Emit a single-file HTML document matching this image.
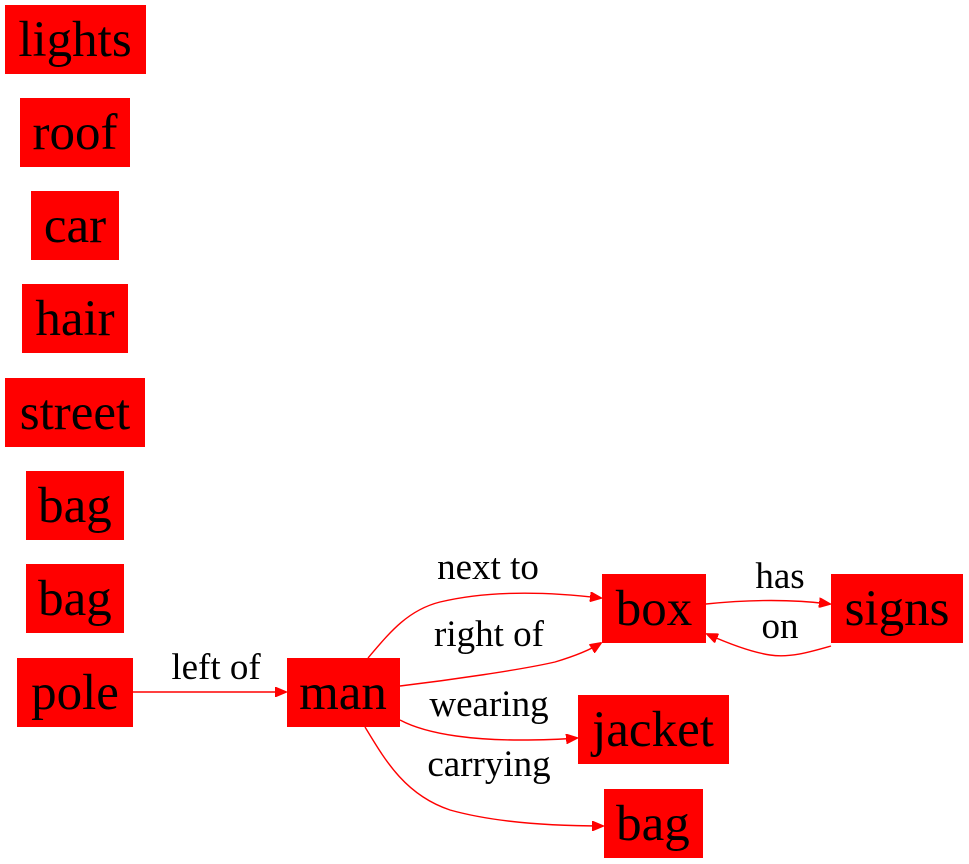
<!DOCTYPE html>
<html><head><meta charset="utf-8">
<style>
html,body{margin:0;padding:0;background:#fff;}
svg{display:block;}
.n{fill:#ff0000;}
.t{font-family:"Liberation Serif",serif;font-size:51px;fill:#000;text-anchor:middle;}
.e{fill:none;stroke:#ff0000;stroke-width:1.4;}
.l{font-family:"Liberation Serif",serif;font-size:37px;fill:#000;text-anchor:middle;}
</style></head>
<body>
<svg width="969" height="864" viewBox="0 0 969 864">
<defs>
<marker id="ah" markerWidth="12" markerHeight="10" refX="11" refY="5" orient="auto" markerUnits="userSpaceOnUse">
<path d="M0,0 L12,5 L0,10 z" fill="#ff0000" stroke="#ff0000"/>
</marker>
</defs>
<g><rect class="n" x="5" y="5" width="141" height="69"/><text class="t" x="75" y="56">lights</text></g>
<g><rect class="n" x="20" y="98" width="110" height="69"/><text class="t" x="75" y="149">roof</text></g>
<g><rect class="n" x="31" y="191" width="88" height="69"/><text class="t" x="75" y="242">car</text></g>
<g><rect class="n" x="22" y="284" width="106" height="69"/><text class="t" x="75" y="335">hair</text></g>
<g><rect class="n" x="5" y="378" width="140" height="69"/><text class="t" x="75" y="429">street</text></g>
<g><rect class="n" x="26" y="471" width="98" height="69"/><text class="t" x="75" y="522">bag</text></g>
<g><rect class="n" x="26" y="564" width="98" height="69"/><text class="t" x="75" y="615">bag</text></g>
<g><rect class="n" x="17" y="658" width="116" height="69"/><text class="t" x="75" y="709">pole</text></g>
<g><rect class="n" x="287" y="658" width="113" height="69"/><text class="t" x="343" y="709">man</text></g>
<g><rect class="n" x="602" y="574" width="104" height="69"/><text class="t" x="654" y="625">box</text></g>
<g><rect class="n" x="831" y="574" width="132" height="69"/><text class="t" x="897" y="625">signs</text></g>
<g><rect class="n" x="578" y="695" width="151" height="69"/><text class="t" x="653" y="746">jacket</text></g>
<g><rect class="n" x="604" y="789" width="99" height="69"/><text class="t" x="653" y="840">bag</text></g>

<g><path class="e" marker-end="url(#ah)" d="M133,692 L286,692"/><text class="l" x="216" y="679">left of</text></g>
<g><path class="e" marker-end="url(#ah)" d="M368,658 C390,632 408,610 440,602 C490,590 550,592 601,598"/><text class="l" x="488" y="579">next to</text></g>
<g><path class="e" marker-end="url(#ah)" d="M400,686 C450,680 520,670 555,662 C575,656 590,650 601,643"/><text class="l" x="489" y="646">right of</text></g>
<g><path class="e" marker-end="url(#ah)" d="M706,604 C745,600 790,599 830,604"/><text class="l" x="780" y="588">has</text></g>
<g><path class="e" marker-end="url(#ah)" d="M831,646 C810,652 790,658 770,655 C750,652 725,642 707,634"/><text class="l" x="780" y="638">on</text></g>
<g><path class="e" marker-end="url(#ah)" d="M400,720 C430,736 480,740 520,740 C545,740 565,739 577,738"/><text class="l" x="489" y="716">wearing</text></g>
<g><path class="e" marker-end="url(#ah)" d="M365,727 C385,760 405,795 450,810 C500,824 560,826 603,826"/><text class="l" x="489" y="776">carrying</text></g>
</svg>
</body></html>
